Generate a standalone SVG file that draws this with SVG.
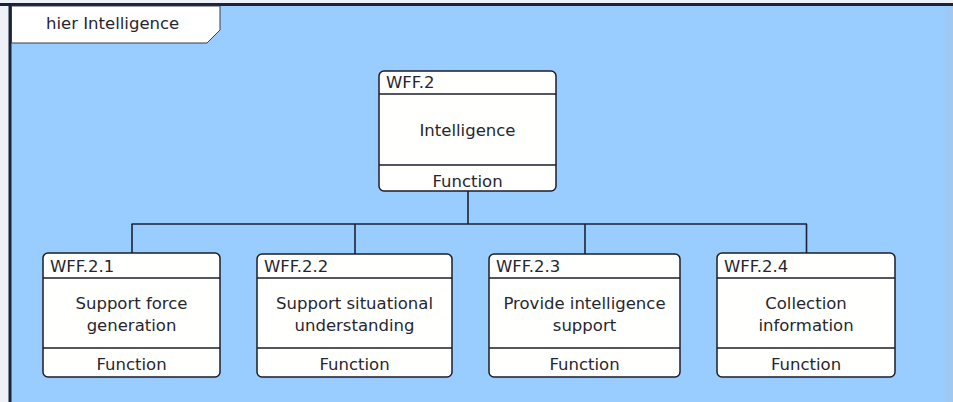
<svg xmlns="http://www.w3.org/2000/svg" width="953" height="402" viewBox="0 0 953 402">
<style>
.node rect{fill:#fffffd;stroke:#1c1c2a;stroke-width:1.5}
.node line{stroke:#1c1c2a;stroke-width:1.5}
text{font-family:"DejaVu Sans","Liberation Sans",sans-serif;font-size:16.5px;fill:#262630}
.c{text-anchor:middle}
.conn line{stroke:#1c2238;stroke-width:1.6}
</style>
<rect x="0" y="0" width="953" height="402" fill="#eef2f8"/>
<rect x="10" y="4" width="943" height="398" fill="#99ccff"/>
<rect x="945" y="6" width="8" height="396" fill="#9fc9f2"/>
<line x1="0" y1="4.5" x2="953" y2="4.5" stroke="#1a2238" stroke-width="3"/>
<line x1="10" y1="3" x2="10" y2="402" stroke="#1a2238" stroke-width="3"/>
<g id="frame-label">
<path d="M11.5 6 H220 V30 L207 43 H11.5 Z" fill="#ffffff" stroke="#3a3a48" stroke-width="1"/>
<text x="46" y="29">hier Intelligence</text>
</g>
<g class="conn" id="connectors">
<line x1="468" y1="191" x2="468" y2="224"/>
<line x1="131.5" y1="224" x2="807" y2="224"/>
<line x1="132" y1="224" x2="132" y2="253"/>
<line x1="355" y1="224" x2="355" y2="254"/>
<line x1="585" y1="224" x2="585" y2="254"/>
<line x1="806.5" y1="224" x2="806.5" y2="253"/>
</g>
<g class="node" id="wff2">
<rect x="379" y="71" width="177" height="120" rx="5"/>
<line x1="379" y1="94" x2="556" y2="94"/>
<line x1="379" y1="165" x2="556" y2="165"/>
<text x="386" y="88">WFF.2</text>
<text class="c" x="467.5" y="136">Intelligence</text>
<text class="c" x="467.5" y="187">Function</text>
</g>
<g class="node" id="wff21">
<rect x="43" y="253" width="177" height="124" rx="5"/>
<line x1="43" y1="278" x2="220" y2="278"/>
<line x1="43" y1="348" x2="220" y2="348"/>
<text x="50" y="272">WFF.2.1</text>
<text class="c" x="131.5" y="309">Support force</text>
<text class="c" x="131.5" y="331">generation</text>
<text class="c" x="131.5" y="370">Function</text>
</g>
<g class="node" id="wff22">
<rect x="257" y="254" width="195" height="123" rx="5"/>
<line x1="257" y1="278" x2="452" y2="278"/>
<line x1="257" y1="348" x2="452" y2="348"/>
<text x="264" y="272">WFF.2.2</text>
<text class="c" x="354.5" y="309">Support situational</text>
<text class="c" x="354.5" y="331">understanding</text>
<text class="c" x="354.5" y="370">Function</text>
</g>
<g class="node" id="wff23">
<rect x="489" y="254" width="191" height="123" rx="5"/>
<line x1="489" y1="278" x2="680" y2="278"/>
<line x1="489" y1="348" x2="680" y2="348"/>
<text x="496" y="272">WFF.2.3</text>
<text class="c" x="584.5" y="309">Provide intelligence</text>
<text class="c" x="584.5" y="331">support</text>
<text class="c" x="584.5" y="370">Function</text>
</g>
<g class="node" id="wff24">
<rect x="717" y="253" width="178" height="124" rx="5"/>
<line x1="717" y1="278" x2="895" y2="278"/>
<line x1="717" y1="348" x2="895" y2="348"/>
<text x="724" y="272">WFF.2.4</text>
<text class="c" x="806" y="309">Collection</text>
<text class="c" x="806" y="331">information</text>
<text class="c" x="806" y="370">Function</text>
</g>
</svg>
